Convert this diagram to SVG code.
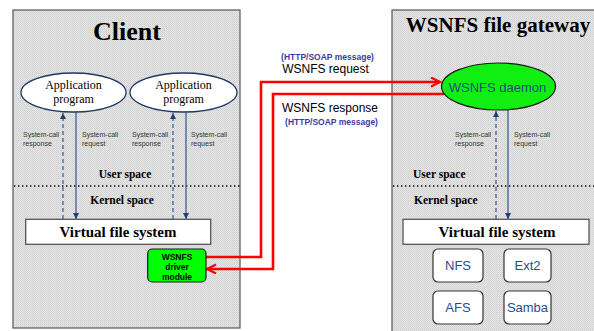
<svg xmlns="http://www.w3.org/2000/svg" width="594" height="331" viewBox="0 0 594 331">
  <defs>
    <!-- fine stipple used for the host panels -->
    <pattern id="stipple" width="2" height="2" patternUnits="userSpaceOnUse">
      <rect width="2" height="2" fill="#e6e6e6"/>
      <rect width="1" height="1" fill="#cfcfcf"/>
      <rect x="1" y="1" width="1" height="1" fill="#d6d6d6"/>
    </pattern>
    <marker id="redHead" markerUnits="userSpaceOnUse" markerWidth="14" markerHeight="14" refX="10" refY="5" orient="auto">
      <path d="M1,0.5 L10,5 L1,9.5" fill="none" stroke="#ff0000" stroke-width="2.2"/>
    </marker>
    <marker id="blueHead" markerUnits="userSpaceOnUse" markerWidth="8" markerHeight="8" refX="6" refY="3" orient="auto">
      <path d="M0,0 L6,3 L0,6 Z" fill="#1f3f73"/>
    </marker>
  </defs>
  <style>
    .panel { fill: url(#stipple); stroke: #555555; stroke-width: 1.2; }
    .title { font-family: "Liberation Serif", serif; font-weight: bold; text-anchor: middle; fill: #000; }
    .app { fill: #ffffff; stroke: #1f3864; stroke-width: 1.3; }
    .appText { font-family: "Liberation Serif", serif; font-size: 12px; text-anchor: middle; fill: #000; }
    .sys { font-family: "Liberation Sans", sans-serif; font-size: 7px; fill: #333333; }
    .space { font-family: "Liberation Serif", serif; font-weight: bold; font-size: 11.5px; fill: #000; }
    .divider { stroke: #000; stroke-width: 1.6; stroke-dasharray: 1.4 2.6; }
    .vfs { fill: #ffffff; stroke: #555555; stroke-width: 1.3; }
    .vfsText { font-family: "Liberation Serif", serif; font-weight: bold; font-size: 15px; text-anchor: middle; fill: #000; }
    .req { stroke: #2f5597; stroke-width: 1.2; fill: none; }
    .resp { stroke: #2f5597; stroke-width: 1.2; fill: none; stroke-dasharray: 4 3; }
    .wire { stroke: #ff0000; stroke-width: 2.6; fill: none; }
    .green { fill: #00ff00; stroke: #1a1a1a; stroke-width: 1.2; }
    .drvText { font-family: "Liberation Sans", sans-serif; font-weight: bold; font-size: 8.5px; text-anchor: middle; fill: #000; }
    .fs { fill: #ffffff; stroke: #333333; stroke-width: 1.2; }
    .fsText { font-family: "Liberation Sans", sans-serif; font-size: 13px; text-anchor: middle; fill: #1f4e8c; }
    .msg { font-family: "Liberation Sans", sans-serif; font-weight: bold; font-size: 8.5px; text-anchor: middle; fill: #3c3ca0; }
    .wsMsg { font-family: "Liberation Sans", sans-serif; font-size: 12px; text-anchor: middle; fill: #000; }
  </style>

  <rect width="594" height="331" fill="#ffffff"/>

  <!-- Client host -->
  <g id="client">
    <rect class="panel" x="13" y="10" width="227" height="318"/>
    <text class="title" x="127" y="40" font-size="26">Client</text>
    <line class="divider" x1="14" y1="186" x2="240" y2="186"/>
    <text class="space" x="125" y="178" text-anchor="middle">User space</text>
    <text class="space" x="122" y="204" text-anchor="middle">Kernel space</text>
  </g>

  <!-- WSNFS file gateway host -->
  <g id="gateway">
    <rect class="panel" x="392" y="10" width="220" height="340"/>
    <text class="title" x="498" y="32" font-size="21">WSNFS file gateway</text>
    <line class="divider" x1="393" y1="186" x2="594" y2="186"/>
    <text class="space" x="413" y="178">User space</text>
    <text class="space" x="414" y="204">Kernel space</text>
  </g>

  <!-- connectors -->
  <g id="connectors">
    <!-- client system calls -->
    <line class="resp" x1="63" y1="219" x2="63" y2="113" marker-end="url(#blueHead)"/>
    <line class="req" x1="76" y1="112" x2="76" y2="219" marker-end="url(#blueHead)"/>
    <line class="resp" x1="173" y1="219" x2="173" y2="113" marker-end="url(#blueHead)"/>
    <line class="req" x1="186" y1="112" x2="186" y2="219" marker-end="url(#blueHead)"/>
    <!-- gateway system calls -->
    <line class="resp" x1="496" y1="219" x2="496" y2="111" marker-end="url(#blueHead)"/>
    <line class="req" x1="508" y1="110" x2="508" y2="219" marker-end="url(#blueHead)"/>
    <!-- WSNFS request / response -->
    <polyline class="wire" points="206,257 261,257 261,82 440,82" marker-end="url(#redHead)"/>
    <polyline class="wire" points="444,94 273,94 273,269 207,269" marker-end="url(#redHead)"/>
  </g>

  <!-- labels on the system-call lines -->
  <g id="syscall-labels">
    <text class="sys" x="23" y="137">System-call</text>
    <text class="sys" x="23" y="146">response</text>
    <text class="sys" x="82" y="137">System-call</text>
    <text class="sys" x="82" y="146">request</text>
    <text class="sys" x="132" y="137">System-call</text>
    <text class="sys" x="132" y="146">response</text>
    <text class="sys" x="191" y="137">System-call</text>
    <text class="sys" x="191" y="146">request</text>
    <text class="sys" x="455" y="137">System-call</text>
    <text class="sys" x="455" y="146">response</text>
    <text class="sys" x="514" y="137">System-call</text>
    <text class="sys" x="514" y="146">request</text>
  </g>

  <!-- message labels -->
  <g id="message-labels">
    <text class="msg" x="327.5" y="60">(HTTP/SOAP message)</text>
    <text class="wsMsg" x="325.5" y="73">WSNFS request</text>
    <text class="wsMsg" x="330" y="112">WSNFS response</text>
    <text class="msg" x="331.5" y="125">(HTTP/SOAP message)</text>
  </g>

  <g id="app1">
    <ellipse class="app" cx="73.5" cy="92.5" rx="52.5" ry="19.5"/>
    <text class="appText" x="73.5" y="89">Application</text>
    <text class="appText" x="73.5" y="103">program</text>
  </g>

  <g id="app2">
    <ellipse class="app" cx="183.5" cy="92.5" rx="53.5" ry="19.5"/>
    <text class="appText" x="183.5" y="89">Application</text>
    <text class="appText" x="183.5" y="103">program</text>
  </g>

  <g id="client-vfs">
    <rect class="vfs" x="25.7" y="219.3" width="185" height="25"/>
    <text class="vfsText" x="118" y="237">Virtual file system</text>
  </g>

  <g id="driver">
    <rect class="green" x="147.7" y="249" width="58.3" height="33" rx="4.5"/>
    <text class="drvText" x="177" y="259.5">WSNFS</text>
    <text class="drvText" x="177" y="270">driver</text>
    <text class="drvText" x="177" y="279.5">module</text>
  </g>

  <g id="daemon">
    <ellipse class="green" cx="498.5" cy="86.5" rx="57" ry="23.5" fill="#11ee11" style="fill:#11ee11"/>
    <text x="497.5" y="92" font-family="Liberation Sans, sans-serif" font-size="13" text-anchor="middle" fill="#1f4e79">WSNFS daemon</text>
  </g>

  <g id="gateway-vfs">
    <rect class="vfs" x="403" y="219.3" width="186" height="25"/>
    <text class="vfsText" x="497" y="237">Virtual file system</text>
  </g>

  <g id="nfs">
    <rect class="fs" x="433" y="249" width="50" height="33" rx="5"/>
    <text class="fsText" x="458" y="270">NFS</text>
  </g>
  <g id="ext2">
    <rect class="fs" x="504" y="249" width="47" height="33" rx="5"/>
    <text class="fsText" x="527.5" y="270">Ext2</text>
  </g>
  <g id="afs">
    <rect class="fs" x="433" y="291" width="50" height="33" rx="5"/>
    <text class="fsText" x="458" y="312">AFS</text>
  </g>
  <g id="samba">
    <rect class="fs" x="504" y="291" width="47" height="33" rx="5"/>
    <text class="fsText" x="527.5" y="312">Samba</text>
  </g>
</svg>
